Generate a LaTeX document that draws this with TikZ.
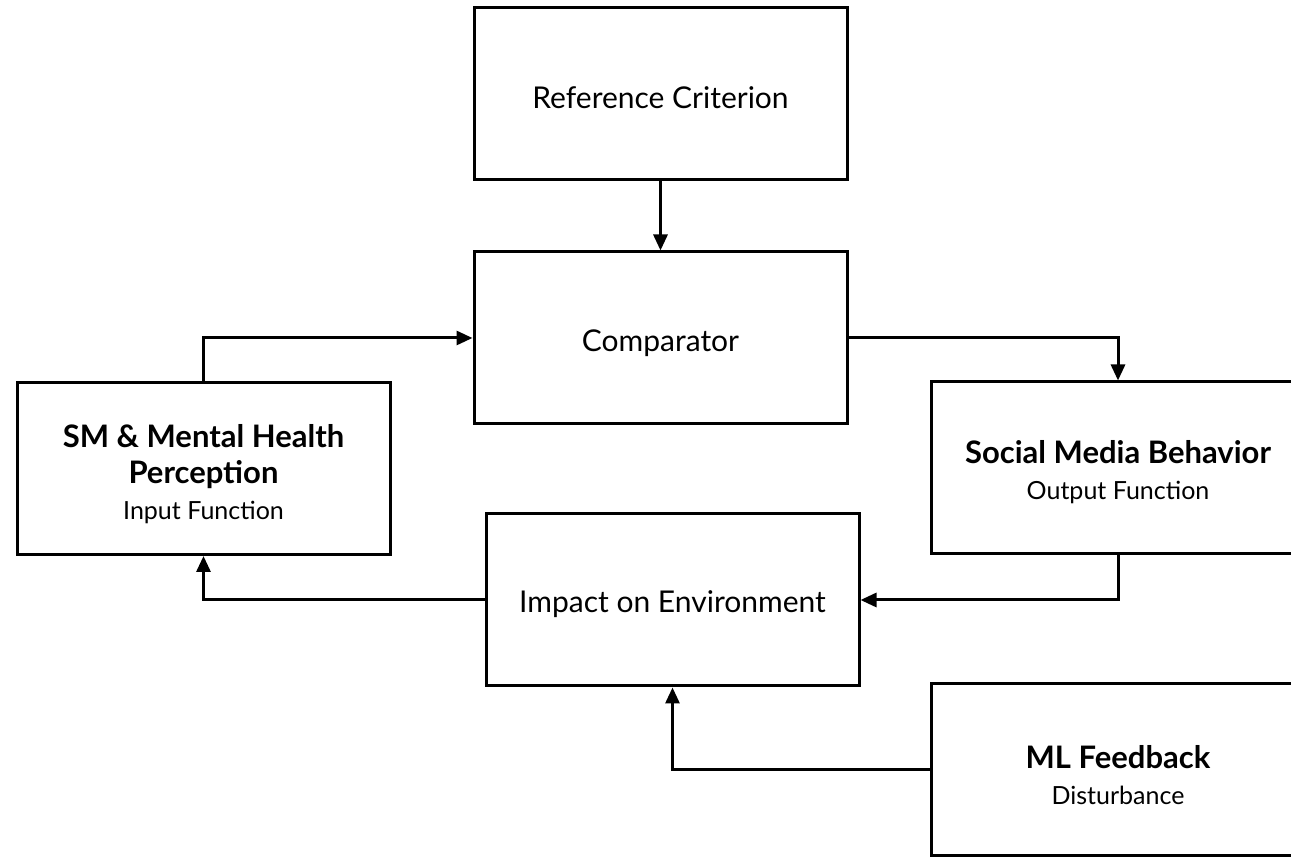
\documentclass[tikz,border=0pt]{standalone}
\usepackage{fontspec}
\setmainfont{Lato}
\usetikzlibrary{arrows.meta}
\newcommand{\subln}[1]{{\fontsize{25}{30}\selectfont\mdseries #1}}
\begin{document}
\begin{tikzpicture}[x=1pt,y=1pt,
  box/.style={draw=black,line width=3pt,minimum width=373pt,minimum height=172pt,inner sep=0pt,fill=white},
  txt/.style={align=center,inner sep=0pt},
  arr/.style={line width=3pt,-{Triangle[length=16pt,width=14pt]}},
  main/.style={font=\fontsize{30}{36}\selectfont},
  ttl/.style={font=\fontsize{31}{36}\selectfont\bfseries}]
\useasboundingbox (0,0) rectangle (1291,857);
\node[box] (ref) at (660.5,763) {};
\node[box] (comp) at (660.5,519) {};
\node[box] (sm) at (203.5,388.5) {};
\node[box] (smb) at (1118,389) {};
\node[box] (imp) at (672.5,257) {};
\node[box] (ml) at (1118,87) {};
\node[txt,main] (reft) at ([yshift=-4pt]ref.center) {Reference Criterion};
\node[txt,main] (compt) at ([yshift=-5pt]comp.center) {Comparator};
\node[txt,ttl] (smt) at ([yshift=-6pt]sm.center) {SM \& Mental Health\\Perception\\\subln{Input Function}};
\node[txt,ttl] (smbt) at ([yshift=-4pt]smb.center) {Social Media Behavior\\\subln{Output Function}};
\node[txt,main] (impt) at ([yshift=-4pt]imp.center) {Impact on Environment};
\node[txt,ttl] (mlt) at ([yshift=-5pt]ml.center) {ML Feedback\\\subln{Disturbance}};
\draw[arr] (ref.south) -- (comp.north);
\draw[arr] (sm.north) |- (comp.west);
\draw[arr] (comp.east) -| (smb.north);
\draw[arr] (smb.south) |- (imp.east);
\draw[arr] (imp.west) -| (sm.south);
\draw[arr] (ml.west) -| (imp.south);
\end{tikzpicture}
\end{document}
